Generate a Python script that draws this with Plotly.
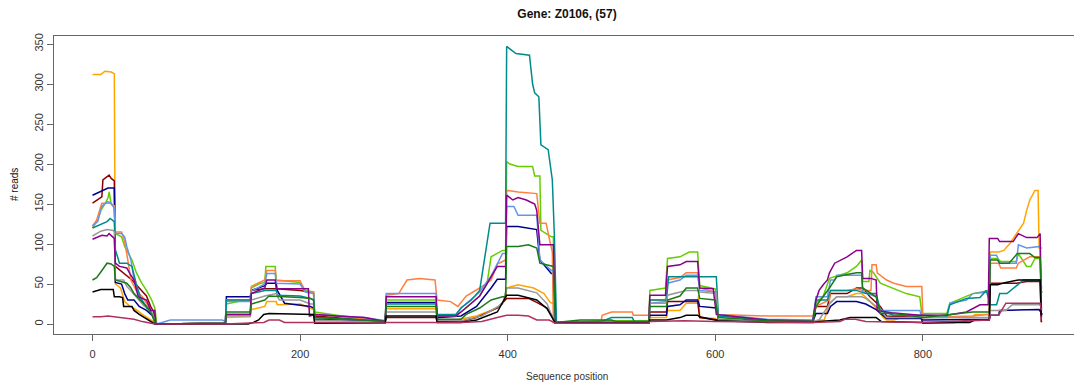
import plotly.graph_objects as go

# ---- data: (sequence position, # reads) breakpoints per sample ----
orange = [(0,312),(8,312),(12,316),(18,315),(21,313),(22,50),(27,45),(31,28),(36,22),(42,18),(48,12),(55,6),(60,1),(62,0),
 (128,1),(129,8),(152,9),(153,18),(166,22),(168,28),(177,28),(178,24),(200,25),(210,20),(213,18),(214,4),(262,3),(282,3),(283,19),(331,19),(332,5),(350,5),(370,10),(390,20),(398,30),(399,45),(410,49),(425,45),(435,38),(441,27),(445,25),(446,2),
 (536,2),(537,8),(553,8),(554,17),(566,17),(572,26),(583,26),(584,36),(585,8),(600,7),(603,4),(650,3),(694,3),(700,5),(705,5),(710,26),(717,34),(727,34),(736,38),(741,38),(748,30),(755,20),(762,8),(765,5),(772,5),(780,8),(800,8),(848,9),(850,12),(864,12),(865,90),(873,90),(878,92),(884,101),(889,110),(892,117),(897,126),(900,142),(903,155),(908,167),(911,167),(912,95),(915,95)]

darkred = [(0,151),(9,159),(10,180),(16,186),(18,182),(21,179),(22,72),(28,66),(33,60),(38,55),(45,45),(52,35),(56,22),(59,15),(61,0),
 (128,1),(129,12),(152,12),(153,42),(166,44),(177,44),(200,42),(210,40),(213,38),(214,10),(262,5),(282,3),(283,8),(331,8),(332,3),(355,3),(370,8),(390,20),(399,32),(410,32),(420,32),(428,27),(438,20),(441,14),(446,2),
 (536,2),(537,15),(553,15),(554,28),(583,28),(585,8),(603,5),(650,3),(694,3),(697,22),(708,22),(711,38),(727,38),(736,45),(742,45),(749,34),(759,22),(765,10),(798,8),(800,1),(830,2),(850,5),(864,5),(865,51),(875,51),(890,51),(900,53),(913,53),(914,3),(915,3)]

darkblue = [(0,161),(5,164),(10,168),(15,170),(21,170),(22,52),(28,50),(31,38),(34,30),(40,30),(45,22),(52,17),(58,10),(61,0),
 (128,1),(129,34),(152,34),(153,42),(166,48),(168,51),(177,51),(178,42),(185,26),(200,24),(210,22),(213,20),(214,6),(262,4),(282,3),(283,27),(331,27),(332,8),(355,10),(370,22),(375,30),(384,45),(390,56),(398,56),(399,122),(410,122),(428,118),(431,80),(442,63),(445,63),(446,2),
 (536,2),(537,11),(553,11),(554,22),(566,24),(572,30),(583,30),(585,22),(601,20),(603,5),(650,3),(694,3),(697,13),(708,13),(711,22),(717,28),(736,28),(745,25),(755,18),(765,7),(798,7),(800,5),(864,6),(865,11),(873,11),(874,17),(912,18),(914,14),(915,12)]

chartreuse = [(0,120),(5,130),(8,142),(12,150),(15,158),(16,165),(18,150),(21,147),(22,113),(28,109),(31,97),(34,90),(38,80),(42,65),(47,52),(52,42),(57,30),(60,20),(62,0),
 (128,1),(129,25),(140,28),(152,30),(153,45),(160,50),(166,52),(167,72),(176,72),(177,55),(200,52),(205,42),(213,40),(214,15),(262,6),(282,4),(283,30),(331,30),(332,10),(350,10),(360,20),(373,35),(380,50),(384,84),(395,92),(398,92),(399,203),(402,200),(410,197),(424,197),(426,185),(431,185),(432,117),(442,109),(444,109),(445,2),
 (490,4),(536,4),(537,42),(552,45),(554,82),(566,84),(575,90),(583,90),(585,48),(600,44),(602,12),(650,5),(694,4),(697,26),(704,35),(710,57),(717,60),(727,64),(736,72),(741,80),(742,53),(748,53),(749,67),(752,65),(759,51),(770,45),(784,38),(797,34),(799,13),(823,13),(826,26),(848,38),(861,42),(864,42),(865,82),(872,82),(875,78),(890,78),(892,88),(900,72),(904,72),(908,82),(913,82),(914,45),(915,45)]

coral = [(0,122),(4,130),(9,151),(17,151),(21,148),(22,115),(28,115),(31,103),(34,80),(37,55),(42,42),(48,34),(54,22),(59,8),(61,0),
 (128,1),(129,30),(152,30),(153,47),(160,51),(166,55),(168,67),(176,67),(177,54),(200,54),(205,40),(213,40),(214,12),(262,6),(282,4),(283,36),(295,38),(303,55),(315,57),(330,55),(332,30),(345,28),(352,22),(360,35),(373,45),(384,55),(390,75),(398,80),(399,167),(410,165),(428,163),(431,126),(437,126),(441,101),(443,90),(444,2),
 (490,3),(491,11),(500,15),(520,15),(521,11),(536,11),(537,30),(552,30),(554,55),(566,58),(572,64),(583,64),(585,45),(600,40),(603,12),(650,10),(694,10),(697,22),(710,30),(711,42),(727,42),(736,44),(742,42),(750,42),(751,74),(755,74),(756,64),(765,55),(772,51),(784,47),(799,47),(800,8),(848,10),(862,12),(864,12),(865,76),(873,76),(875,70),(890,70),(892,76),(903,84),(913,84),(914,21),(915,21)]

cornflower = [(0,123),(5,128),(9,147),(14,153),(17,152),(21,145),(22,113),(28,113),(31,109),(33,97),(37,80),(40,55),(45,34),(52,22),(58,12),(62,0),
 (70,3),(75,5),(125,5),(128,3),(129,28),(152,28),(153,41),(166,50),(168,63),(176,63),(177,51),(200,50),(205,40),(213,38),(214,12),(262,8),(282,4),(283,38),(331,38),(332,10),(350,10),(355,20),(373,40),(384,60),(395,88),(398,88),(399,147),(406,147),(410,136),(428,136),(431,80),(442,67),(444,67),(445,2),
 (536,3),(537,26),(553,28),(554,51),(566,55),(572,61),(583,61),(585,42),(600,40),(603,12),(650,6),(694,5),(697,34),(708,34),(711,55),(715,55),(717,61),(741,61),(742,40),(755,34),(759,17),(797,17),(799,8),(823,8),(826,26),(842,30),(848,38),(864,40),(865,86),(871,86),(874,76),(890,76),(892,99),(900,95),(913,97),(914,47),(915,47)]

teal = [(0,120),(8,124),(14,128),(17,132),(21,128),(22,93),(26,76),(33,76),(38,72),(42,51),(46,34),(52,20),(56,17),(61,0),
 (128,1),(129,30),(152,30),(153,38),(166,42),(177,42),(178,36),(200,35),(210,32),(213,30),(214,8),(262,5),(282,3),(283,25),(331,25),(332,12),(350,12),(355,20),(365,30),(373,42),(383,126),(398,126),(399,347),(403,343),(408,338),(421,336),(424,300),(426,289),(430,284),(432,224),(439,218),(443,180),(445,109),(447,2),
 (490,3),(500,8),(520,8),(522,3),(536,3),(537,30),(553,30),(555,59),(601,59),(603,10),(650,5),(694,4),(697,30),(708,30),(711,42),(736,42),(741,40),(745,38),(755,38),(759,17),(772,11),(799,11),(823,10),(826,24),(842,32),(855,33),(861,42),(864,30),(865,24),(871,24),(874,38),(881,38),(890,47),(897,55),(913,55),(914,40),(915,40)]

gray = [(0,110),(8,116),(14,118),(20,117),(21,115),(22,55),(30,55),(33,47),(38,40),(45,30),(50,22),(55,20),(58,10),(60,0),
 (128,0),(129,10),(152,10),(153,30),(166,35),(177,38),(180,30),(200,30),(210,25),(213,25),(214,5),(262,3),(282,2),(283,15),(331,15),(332,5),(355,4),(375,10),(395,25),(399,45),(410,45),(428,39),(438,25),(441,15),(446,2),
 (536,2),(537,26),(553,26),(554,36),(572,42),(583,42),(585,40),(601,38),(603,5),(650,3),(694,3),(700,5),(710,25),(717,34),(736,34),(741,34),(745,32),(755,22),(765,8),(799,8),(850,8),(864,8),(865,17),(880,17),(886,24),(913,24),(914,20),(915,20)]

purple = [(0,106),(4,108),(9,111),(14,110),(16,113),(21,107),(22,76),(26,72),(31,70),(33,70),(36,63),(40,55),(44,34),(52,30),(56,17),(60,17),(61,0),
 (128,1),(129,12),(152,12),(153,38),(166,45),(168,55),(176,55),(177,44),(200,44),(208,44),(209,10),(215,12),(235,10),(262,8),(282,3),(283,34),(331,34),(332,10),(350,10),(355,15),(373,35),(384,60),(390,72),(398,72),(399,161),(405,155),(410,158),(418,155),(426,150),(428,142),(431,99),(444,99),(446,2),
 (536,2),(537,36),(552,36),(554,72),(566,74),(572,78),(583,78),(585,45),(598,44),(601,12),(650,5),(694,3),(697,30),(700,42),(704,49),(708,55),(710,64),(715,76),(727,84),(736,92),(741,92),(742,57),(750,57),(755,55),(756,17),(770,14),(797,11),(823,11),(842,15),(855,24),(863,24),(864,107),(872,107),(874,103),(887,103),(892,113),(900,108),(910,108),(913,113),(914,10),(915,10)]

darkgreen = [(0,55),(4,58),(8,65),(12,72),(14,76),(18,75),(21,72),(22,55),(28,53),(33,51),(37,45),(40,38),(46,30),(52,22),(57,12),(61,0),
 (128,1),(129,15),(152,15),(153,25),(166,30),(170,35),(200,33),(210,32),(213,30),(214,8),(262,5),(282,3),(283,22),(331,22),(332,6),(355,6),(360,12),(373,20),(384,30),(395,34),(398,34),(399,97),(410,97),(420,99),(428,95),(431,76),(444,72),(446,2),
 (470,5),(500,5),(505,3),(536,3),(537,22),(553,22),(554,30),(566,35),(572,45),(583,45),(585,32),(600,30),(603,8),(650,4),(694,3),(697,22),(710,45),(717,59),(727,62),(736,64),(741,64),(742,45),(755,34),(759,13),(772,13),(784,11),(800,8),(848,15),(864,15),(865,80),(872,80),(874,76),(883,76),(891,88),(903,88),(908,83),(913,83),(914,40),(915,40)]

black = [(0,40),(8,43),(15,43),(20,43),(21,34),(26,34),(29,33),(30,22),(38,22),(40,17),(45,12),(50,8),(55,3),(60,0),
 (150,0),(155,2),(160,5),(165,12),(170,13),(200,12),(213,12),(214,1),(282,1),(283,10),(331,10),(332,2),(355,2),(370,5),(390,15),(399,36),(410,36),(428,30),(438,19),(442,10),(446,1),
 (536,1),(537,5),(553,5),(566,8),(572,11),(583,11),(585,9),(603,4),(650,2),(694,2),(700,3),(720,5),(730,8),(755,8),(760,3),(800,2),(845,2),(850,5),(864,5),(865,49),(872,49),(880,52),(892,55),(913,55),(914,12),(915,12)]

maroon = [(0,9),(8,9),(15,10),(21,9),(30,8),(40,6),(48,3),(55,1),(60,0),
 (128,0),(165,2),(170,5),(180,5),(185,2),(213,2),(282,1),(283,2),(355,2),(375,3),(390,8),(399,11),(410,11),(420,10),(428,5),(440,5),(446,1),
 (536,1),(537,3),(570,4),(600,3),(694,2),(720,3),(725,6),(735,6),(745,3),(800,2),(850,4),(864,5),(865,11),(873,11),(880,26),(913,26),(914,18),(915,18)]

series = [
    (orange, "#FFA500"),
    (darkred, "#8B0000"),
    (darkblue, "#00008B"),
    (chartreuse, "#66CD00"),
    (coral, "#FF7F3F"),
    (cornflower, "#6495ED"),
    (teal, "#008B8B"),
    (gray, "#999999"),
    (purple, "#8B008B"),
    (darkgreen, "#1A7A1A"),
    (black, "#000000"),
    (maroon, "#B03060"),
]

x_ticks = [0, 200, 400, 600, 800]
y_ticks = [0, 50, 100, 150, 200, 250, 300, 350]

fig = go.Figure()
for pts, color in series:
    xs = [p[0] for p in pts]
    ys = [p[1] for p in pts]
    fig.add_trace(go.Scatter(x=xs, y=ys, mode="lines",
                             line=dict(color=color, width=1.5),
                             hoverinfo="skip", showlegend=False))

font_family = "Liberation Sans, Arial, sans-serif"
fig.update_layout(
    width=1074, height=382,
    margin=dict(l=54, r=0, t=36, b=48, pad=0),
    plot_bgcolor="white", paper_bgcolor="white",
    font=dict(family=font_family, size=11, color="#333333"),
    title=dict(text="<b>Gene: Z0106, (57)</b>", x=567/1074, xref="container", xanchor="center",
               y=1 - 14/382, yref="container", yanchor="middle",
               font=dict(size=12, color="#111111", family=font_family)),
    xaxis=dict(range=[-37.1, 945.6], tickvals=x_ticks, ticks="outside", ticklen=6,
               tickcolor="#666666", showline=True, linecolor="#666666", linewidth=1,
               mirror=True, showgrid=False, zeroline=False, ticklabelstandoff=4,
               tickfont=dict(size=11, color="#333333")),
    yaxis=dict(range=[-12.5, 360], tickvals=y_ticks, ticks="outside", ticklen=6,
               tickcolor="#666666", showline=True, linecolor="#666666", linewidth=1,
               showgrid=False, zeroline=False, tickangle=-90,
               tickfont=dict(size=11, color="#333333")),
    annotations=[
        dict(text="Sequence position", xref="paper", yref="paper", x=(567-54)/1020, y=(334-376)/298,
             xanchor="center", yanchor="middle", showarrow=False, font=dict(size=10, color="#333333")),
        dict(text="# reads", xref="paper", yref="paper", x=(14-54)/1020, y=0.5, textangle=-90,
             xanchor="center", yanchor="middle", showarrow=False, font=dict(size=10, color="#111111")),
    ],
)

fig.write_html("out.html")
